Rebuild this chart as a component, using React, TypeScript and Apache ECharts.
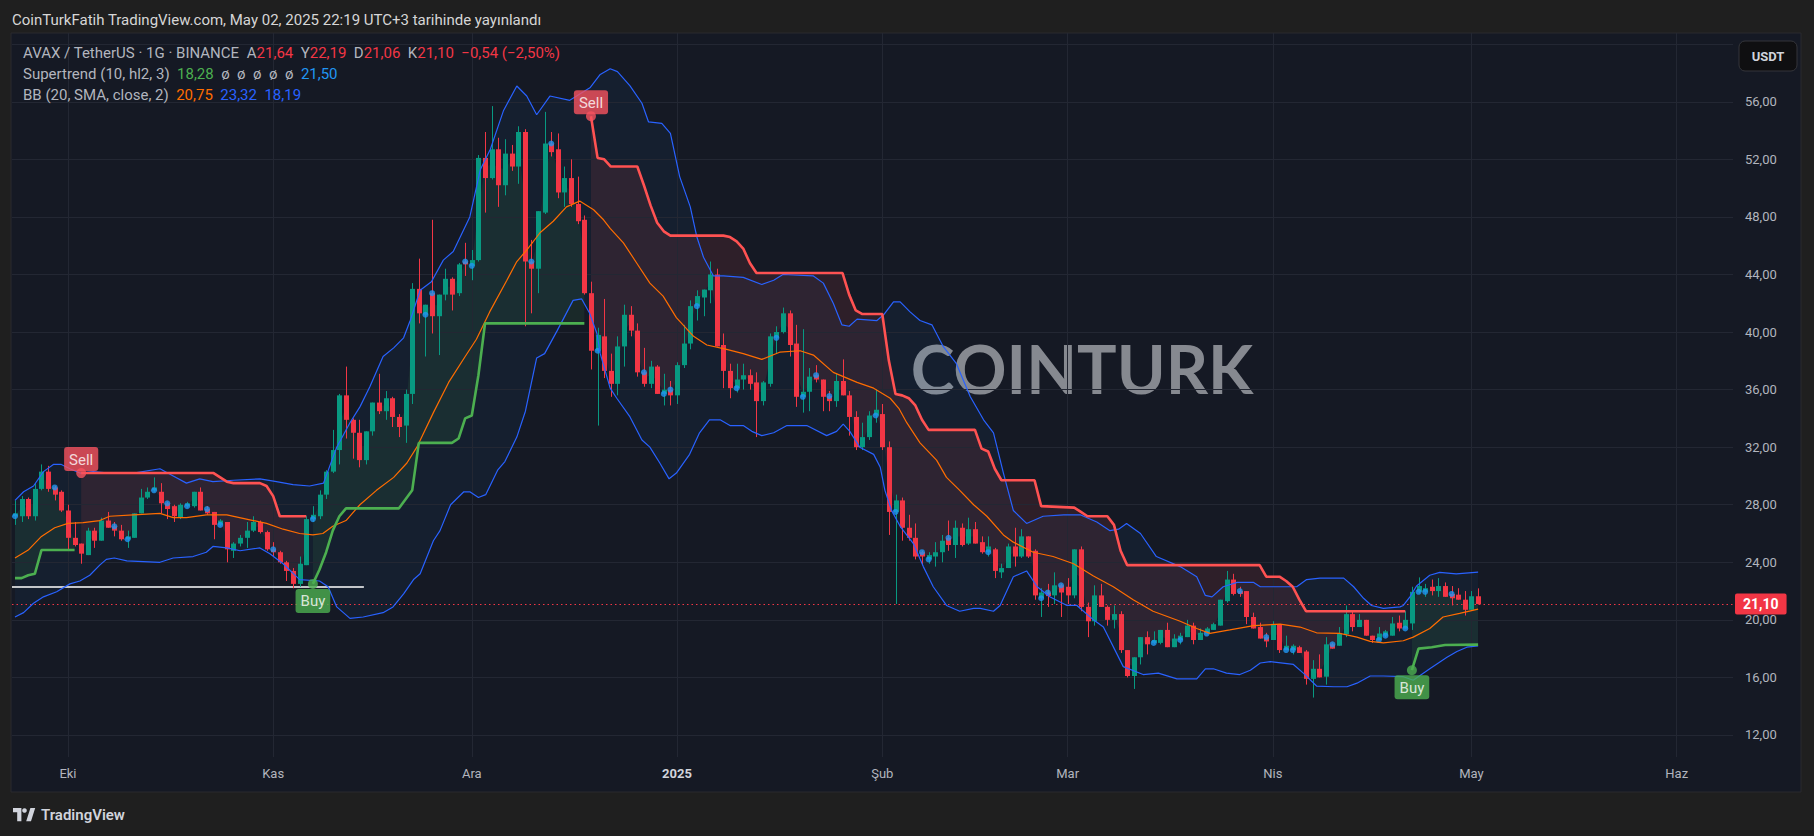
import React, { useEffect, useRef } from 'react';
import * as echarts from 'echarts';

// Day index 0 = 2024-09-23 (daily candles), last = 2025-05-02 (index 221)
// Each candle: [open, high, low, close]
const candles: number[][] = [
  [27.2, 28.3, 26.6, 27.4], [27.2, 28.6, 26.8, 28.4], [28.4, 28.5, 27.0, 27.2], [27.2, 29.5, 26.9, 29.1],
  [29.1, 30.8, 29.0, 30.3], [30.3, 30.7, 28.9, 29.1], [29.2, 29.3, 28.3, 28.7], [28.9, 29.0, 27.5, 27.6],
  [27.6, 28.0, 24.9, 25.7], [25.7, 26.8, 25.1, 25.2], [25.3, 25.3, 23.9, 24.6], [24.5, 26.4, 24.5, 26.2],
  [26.2, 26.4, 25.0, 25.5], [25.5, 27.1, 25.5, 26.9], [26.9, 27.5, 26.4, 26.4], [26.5, 26.8, 25.8, 26.2],
  [26.2, 26.6, 25.5, 25.6], [25.6, 26.2, 25.0, 25.8], [25.7, 27.4, 25.7, 27.4], [27.4, 29.1, 27.4, 28.5],
  [28.5, 29.2, 28.4, 28.9], [29.0, 29.9, 28.9, 29.2], [28.9, 29.5, 27.4, 28.1], [28.1, 28.2, 27.0, 27.7],
  [27.9, 28.0, 26.8, 27.2], [27.1, 28.1, 27.0, 28.0], [27.9, 28.2, 27.8, 28.1], [27.9, 28.9, 27.8, 28.9],
  [28.9, 29.2, 27.6, 27.6], [27.7, 27.9, 27.3, 27.4], [27.5, 27.5, 25.6, 26.6], [26.6, 27.0, 26.5, 26.9],
  [26.8, 26.8, 24.0, 24.9], [24.8, 25.4, 24.3, 25.3], [25.3, 25.9, 25.1, 25.7], [25.7, 26.8, 25.0, 26.2],
  [26.2, 27.2, 26.1, 26.8], [26.8, 26.9, 26.0, 26.1], [26.1, 26.2, 24.8, 24.9], [24.9, 25.4, 24.4, 24.7],
  [24.7, 24.8, 23.9, 24.0], [24.0, 24.1, 22.7, 23.4], [23.4, 23.6, 22.2, 22.5], [22.5, 24.4, 22.3, 23.9],
  [23.8, 27.2, 23.8, 27.0], [27.0, 27.9, 26.8, 27.3], [27.2, 29.0, 27.0, 28.7], [28.7, 30.4, 28.4, 30.3],
  [30.3, 33.2, 30.2, 31.8], [31.8, 35.7, 30.8, 35.6], [35.6, 37.6, 32.6, 33.9], [33.9, 34.0, 31.2, 33.0],
  [33.0, 33.9, 30.6, 31.1], [31.1, 33.1, 30.8, 33.1], [33.1, 35.1, 32.8, 35.1], [35.1, 37.1, 34.3, 34.5],
  [34.5, 35.9, 33.9, 35.4], [35.4, 35.5, 33.4, 34.1], [34.1, 34.3, 32.7, 33.4], [33.5, 36.0, 32.3, 35.7],
  [35.7, 43.4, 35.0, 43.0], [43.0, 45.1, 40.6, 41.3], [41.2, 41.9, 38.3, 41.9], [42.7, 47.8, 39.9, 41.1],
  [41.1, 42.6, 38.4, 42.6], [42.6, 44.4, 42.2, 43.7], [43.7, 43.8, 41.5, 42.6], [42.7, 44.8, 42.5, 44.7],
  [44.9, 46.2, 43.9, 44.7], [44.6, 45.7, 43.6, 45.0], [45.0, 52.3, 44.9, 52.1], [52.1, 53.9, 48.3, 50.7],
  [50.7, 55.7, 50.6, 52.7], [52.7, 53.5, 48.7, 50.2], [50.2, 53.4, 49.5, 52.4], [52.4, 53.0, 51.2, 51.5],
  [51.5, 54.3, 50.3, 53.9], [53.9, 54.1, 40.4, 44.9], [44.9, 46.4, 41.3, 44.4], [44.4, 48.4, 42.7, 48.4],
  [48.3, 55.3, 48.2, 53.1], [53.1, 53.9, 52.2, 52.5], [52.7, 53.8, 49.3, 49.7], [49.7, 51.5, 48.7, 50.7],
  [50.7, 52.0, 48.7, 48.9], [48.9, 50.8, 47.5, 47.7], [47.8, 48.1, 42.6, 42.7], [42.7, 43.5, 37.4, 38.7],
  [38.7, 40.3, 33.5, 39.8], [39.7, 42.3, 36.8, 37.3], [37.3, 38.5, 35.5, 36.4], [36.4, 39.7, 35.6, 39.0],
  [39.0, 41.9, 37.6, 41.2], [41.2, 41.8, 39.7, 40.1], [40.1, 40.6, 36.9, 37.2], [37.2, 38.9, 36.2, 36.4],
  [36.4, 38.0, 36.1, 37.6], [37.6, 37.7, 35.7, 35.7], [35.7, 37.1, 34.9, 36.0], [36.0, 36.6, 34.9, 35.6],
  [35.6, 37.9, 35.0, 37.7], [37.7, 40.5, 37.5, 39.2], [39.2, 42.2, 38.8, 41.8], [41.8, 42.9, 40.8, 42.5],
  [42.4, 42.95, 41.1, 42.95], [42.9, 44.9, 42.0, 44.0], [44.0, 44.4, 39.0, 39.0], [39.1, 39.9, 36.1, 37.3],
  [37.3, 37.8, 35.4, 36.1], [36.1, 37.8, 35.8, 36.7], [36.7, 37.8, 36.0, 37.0], [37.0, 37.4, 36.0, 36.4],
  [36.5, 37.2, 32.7, 35.2], [35.2, 36.6, 34.9, 36.5], [36.4, 39.9, 36.2, 39.7], [39.6, 40.4, 38.5, 40.0],
  [40.0, 41.7, 39.9, 41.3], [41.3, 41.5, 38.3, 39.1], [39.2, 40.5, 34.8, 35.5], [35.5, 40.2, 34.4, 35.85],
  [35.85, 37.5, 34.5, 36.9], [37.0, 37.7, 36.5, 36.7], [36.7, 36.7, 34.5, 35.5], [35.55, 35.9, 34.5, 35.2],
  [35.2, 37.1, 34.8, 36.6], [36.6, 38.1, 35.6, 35.6], [35.6, 35.9, 32.8, 34.1], [34.1, 34.5, 31.8, 32.0],
  [32.0, 33.7, 31.8, 32.7], [32.7, 34.5, 32.5, 34.2], [34.2, 36.0, 33.7, 34.6], [34.3, 35.0, 31.8, 32.0],
  [32.0, 32.4, 25.9, 27.5], [27.5, 28.7, 21.1, 28.3], [28.3, 28.5, 25.5, 26.4], [26.4, 27.3, 25.5, 25.7],
  [25.7, 26.7, 24.2, 24.4], [24.7, 24.8, 23.8, 24.4], [24.2, 24.7, 23.9, 24.5], [24.4, 25.4, 23.7, 24.7],
  [24.7, 25.9, 24.0, 25.5], [25.7, 26.9, 24.8, 25.2], [25.2, 26.9, 24.3, 26.4], [26.4, 26.7, 25.1, 25.2],
  [25.3, 27.1, 25.2, 26.3], [26.3, 26.8, 25.3, 25.3], [25.4, 25.8, 24.6, 24.7], [24.7, 25.8, 24.4, 25.1],
  [24.9, 25.0, 22.9, 23.4], [23.3, 23.9, 22.9, 23.6], [23.6, 25.3, 23.6, 25.1], [25.1, 26.4, 23.7, 24.4],
  [24.4, 26.3, 24.3, 25.8], [25.8, 25.8, 24.3, 24.4], [24.8, 24.9, 21.4, 21.7], [21.5, 22.2, 20.2, 21.9],
  [21.9, 22.5, 20.9, 21.65], [21.7, 23.3, 21.1, 22.4], [22.4, 22.5, 20.2, 21.9], [22.3, 22.9, 21.1, 21.7],
  [21.7, 24.9, 21.5, 24.9], [24.9, 25.1, 20.6, 20.9], [20.9, 21.2, 18.8, 19.9], [19.9, 22.4, 19.6, 21.7],
  [21.7, 22.5, 20.9, 20.9], [20.9, 21.0, 19.6, 20.0], [20.0, 21.0, 19.4, 20.4], [20.4, 20.6, 17.7, 17.9],
  [17.9, 17.9, 16.0, 16.1], [16.1, 17.4, 15.2, 17.4], [17.4, 18.8, 16.9, 18.8], [18.8, 19.2, 17.6, 18.3],
  [18.4, 19.2, 18.3, 18.6], [18.4, 19.3, 18.3, 19.3], [19.3, 19.8, 18.1, 18.1], [18.1, 19.0, 18.1, 18.7],
  [18.6, 19.1, 18.3, 18.9], [18.8, 20.0, 18.8, 19.6], [19.6, 19.8, 18.3, 18.6], [18.6, 19.4, 18.6, 19.1],
  [19.05, 19.5, 19.0, 19.4], [19.3, 19.8, 19.3, 19.7], [19.6, 21.4, 19.6, 21.4], [21.3, 23.4, 21.2, 22.8],
  [22.8, 23.2, 21.7, 21.8], [22.0, 22.3, 21.6, 21.8], [22.0, 22.0, 19.7, 20.2], [20.2, 20.5, 19.4, 19.4],
  [19.5, 19.8, 18.7, 18.7], [18.8, 19.1, 18.1, 18.5], [18.6, 19.9, 18.6, 19.7], [19.7, 19.7, 17.7, 17.9],
  [17.9, 18.9, 17.9, 18.2], [17.9, 18.3, 17.6, 18.2], [18.1, 18.2, 17.7, 17.7], [17.8, 17.9, 15.5, 15.9],
  [15.9, 17.2, 14.6, 16.6], [16.6, 17.6, 16.0, 16.0], [16.05, 18.8, 15.5, 18.3], [18.3, 18.4, 18.0, 18.0],
  [18.2, 19.5, 18.2, 19.05], [19.0, 21.0, 18.8, 20.4], [20.4, 20.6, 19.2, 19.5], [19.5, 20.4, 19.5, 20.0],
  [20.0, 20.0, 18.9, 18.9], [18.9, 18.9, 18.4, 18.6], [18.6, 19.5, 18.6, 19.05], [18.9, 19.3, 18.8, 19.2],
  [18.9, 20.2, 18.9, 19.75], [19.8, 20.3, 19.2, 19.4], [19.4, 20.6, 19.4, 20.0], [19.75, 22.3, 19.3, 21.95],
  [21.95, 22.95, 21.85, 22.35], [21.95, 22.5, 21.6, 22.2], [22.3, 22.8, 21.7, 22.0], [22.0, 22.9, 21.6, 22.35],
  [22.35, 22.6, 21.6, 21.6], [21.8, 22.35, 21.0, 21.5], [21.75, 22.2, 21.4, 21.4], [21.4, 22.0, 20.3, 20.7],
  [20.7, 22.0, 20.7, 21.64], [21.64, 22.19, 21.06, 21.10],
];

// candles carrying the small blue marker
const dotDays = [0, 6, 15, 17, 21, 23, 26, 29, 31, 39, 45, 62, 63, 68, 69, 78, 81, 88, 95, 98, 99, 103, 109, 115,
  119, 121, 123, 130, 133, 137, 138, 141, 147, 155, 156, 158, 172, 176, 180, 185, 189, 192, 193, 199, 206, 207,
  210, 212, 213, 217];

// Bollinger Bands (20, SMA, close, 2): [dayIndex, price]
const bbUpper: number[][] = [
  [0, 28.3], [1.3, 28.9], [2.8, 29.3], [4.3, 30.3], [5.8, 30.8], [7, 30.8], [8.3, 30.5], [9.8, 30.2], [11.8, 30.3],
  [14.3, 30.2], [17.9, 30.2], [21.9, 30.5], [23.9, 30.0], [25.9, 29.5], [27.9, 29.8], [29.9, 29.6], [33, 29.7],
  [37, 29.8], [39.5, 29.6], [42, 29.4], [44.5, 29.3], [46.6, 29.5], [48.6, 32.0], [50.6, 33.7], [52.1, 34.8],
  [53.6, 36.2], [55.6, 38.3], [57.2, 38.9], [58.7, 39.6], [59.7, 40.8], [61.2, 42.9], [62.9, 43.5], [64.7, 45.0],
  [66.2, 45.6], [68.7, 48.0], [70.3, 51.3], [71.8, 52.7], [73.8, 55.4], [75.8, 57.1], [77.3, 56.4], [78.8, 55.1],
  [80.8, 56.4], [83.8, 56.1], [85.5, 56.6], [86.9, 57.0], [88.4, 57.9], [89.9, 58.3], [91, 58.1], [92.9, 57.1],
  [94.7, 55.9], [95.7, 54.6], [97.7, 54.5], [99, 53.8], [100.4, 50.8], [102, 48.7], [103, 46.6], [104, 45.2],
  [105.5, 43.9], [107, 43.9], [110, 43.8], [112.8, 43.3], [114.6, 43.6], [116, 44.0], [120.6, 43.9], [122.1, 43.4],
  [123.6, 42.0], [124.9, 40.5], [126, 40.4], [127.2, 40.9], [130.2, 40.8], [131.2, 41.2], [132.7, 42.1],
  [133.7, 42.1], [135.2, 41.4], [136.7, 40.8], [138.5, 40.5], [140.2, 39.0], [142.2, 37.8], [144.3, 35.5],
  [146.3, 33.9], [147.8, 33.0], [149.3, 30.2], [150.8, 27.6], [152.8, 26.7], [155.3, 27.2], [158.4, 27.3],
  [160.9, 27.3], [163.4, 26.8], [165.4, 26.2], [166.7, 26.3], [167.9, 26.7], [170, 26.0], [172.4, 24.4],
  [176, 23.7], [178.5, 23.0], [179.8, 21.7], [180.8, 21.6], [182.5, 22.3], [184.6, 22.6], [187.1, 22.6],
  [188.1, 22.3], [193.6, 22.3], [195.1, 22.8], [197.1, 22.9], [200.7, 22.9], [202.2, 22.3], [203.7, 21.5],
  [204.9, 21.0], [206.7, 20.8], [209.2, 20.9], [209.7, 21.0], [210.7, 21.6], [211.7, 22.35], [213.7, 23.1],
  [215.2, 23.3], [217.7, 23.2], [221, 23.32],
];
const bbMiddle: number[][] = [
  [0, 24.3], [2, 24.85], [4, 25.8], [6, 26.4], [8, 26.7], [10.3, 26.75], [12.8, 26.9], [14.3, 27.2], [17.9, 27.3],
  [21.9, 27.4], [23.9, 27.1], [25.9, 27.1], [28.9, 27.3], [32, 27.3], [36, 26.9], [38, 26.7], [40.5, 26.3],
  [43, 26.0], [45, 25.9], [46.5, 26.0], [48, 26.5], [50, 26.9], [52.1, 28.0], [54.6, 29.0], [57.2, 29.9],
  [59.2, 30.9], [60.7, 32.0], [63.2, 34.4], [65.5, 36.5], [68, 38.3], [69.7, 39.5], [71.7, 41.4], [74.3, 43.6],
  [75.8, 44.9], [77.3, 45.7], [79.3, 46.9], [81.3, 47.7], [83.3, 48.7], [85.3, 49.1], [87.4, 48.5], [88.9, 47.8],
  [89.9, 47.2], [91.9, 46.2], [93.9, 44.8], [95.9, 43.4], [97.9, 42.5], [99.9, 41.0], [102.5, 39.7], [104.5, 39.1],
  [107.5, 38.8], [110, 38.5], [112.8, 38.1], [115.5, 38.6], [118.6, 38.7], [120.6, 38.4], [123.6, 37.2],
  [127.2, 36.5], [129.7, 36.1], [132.2, 35.4], [133.5, 34.7], [134.7, 33.7], [136.7, 32.3], [139.2, 31.1],
  [140.7, 29.9], [142.7, 29.0], [144.8, 28.0], [146.8, 27.2], [149.3, 25.9], [150.8, 25.4], [153.8, 24.7],
  [156.8, 24.4], [159.9, 23.9], [162.9, 23.05], [165.9, 22.3], [168.9, 21.4], [171.9, 20.6], [176, 19.9],
  [178.5, 19.4], [180.5, 19.06], [183.5, 19.3], [187.1, 19.6], [191.1, 19.7], [194.1, 19.5], [196.6, 19.1],
  [200.1, 19.06], [202.7, 18.8], [204.7, 18.5], [206.7, 18.4], [209.7, 18.55], [211.2, 18.8], [213.7, 19.4],
  [215.7, 20.2], [218.2, 20.45], [221, 20.75],
];
const bbLower: number[][] = [
  [0, 20.2], [1.3, 20.5], [2.8, 21.15], [4.3, 21.6], [6.3, 21.95], [8.3, 22.5], [9.8, 22.7], [11.3, 23.1],
  [12.8, 23.8], [13.8, 24.2], [15, 24.3], [16.9, 24.1], [21.9, 24.0], [23.9, 24.3], [26.9, 24.4], [28.9, 24.7],
  [29.9, 25.1], [32, 25.0], [34, 24.8], [37, 25.0], [38.5, 24.6], [40.5, 23.9], [43, 22.8], [46, 22.7],
  [47.3, 22.3], [48.6, 20.9], [50.6, 20.1], [52.6, 20.2], [55.6, 20.5], [57.1, 20.9], [58.7, 21.8], [60.2, 22.8],
  [61.2, 23.2], [63.2, 25.5], [64.2, 26.2], [65.8, 28.0], [67.8, 28.9], [68.7, 28.9], [70, 28.5], [71.1, 28.7],
  [72.9, 30.4], [74, 31.0], [75.8, 32.7], [77.1, 34.5], [78.8, 38.2], [80, 38.5], [81.9, 40.1], [84.3, 42.2],
  [85.6, 42.3], [86.8, 41.3], [87.9, 39.9], [88.4, 38.5], [89.9, 36.1], [90.9, 35.4], [92.9, 34.1], [94.7, 32.5],
  [95.9, 32.0], [97.4, 30.9], [98.8, 29.8], [99.9, 30.2], [101.9, 31.5], [103.4, 33.0], [104.9, 33.9],
  [106.5, 33.9], [108, 33.5], [110, 33.5], [111.3, 33.1], [112.8, 32.8], [114.6, 33.0], [116.6, 33.5],
  [119.6, 33.5], [122.6, 32.8], [124.1, 33.1], [125.1, 33.6], [126.1, 33.1], [127.6, 32.0], [129.7, 31.5],
  [130.7, 30.6], [131.4, 29.0], [132.4, 27.6], [133.7, 26.5], [135.7, 25.3], [137.2, 23.7], [138.7, 22.3],
  [140.7, 21.0], [142.7, 20.6], [144.8, 20.8], [145.8, 20.8], [147.8, 20.6], [148.8, 21.0], [150.8, 23.0],
  [152.8, 23.4], [154.4, 22.3], [156.3, 21.6], [158.9, 21.0], [160.4, 21.0], [162.9, 20.0], [164.4, 19.5],
  [167.4, 16.75], [170.4, 16.2], [172.7, 16.3], [175.5, 15.9], [178.5, 15.9], [179.8, 16.6], [181, 16.6],
  [183, 16.3], [185, 16.2], [186.6, 16.5], [188.1, 17.0], [189.6, 17.1], [193.1, 16.9], [194.6, 16.3],
  [196.6, 15.4], [199.2, 15.35], [201.2, 15.35], [202.7, 15.6], [204.7, 16.1], [206.7, 16.1], [209.7, 16.05],
  [211.2, 15.8], [213.7, 16.6], [216.3, 17.4], [217.8, 17.8], [219.3, 18.1], [221, 18.19],
];

// Supertrend (10, hl2, 3) segments: [dayIndex, price]
const stUp1: number[][] = [[0, 22.9], [1, 22.9], [2, 23.1], [3, 23.2], [4, 24.85], [9, 24.85]];
const stDown1: number[][] = [[10, 30.2], [30, 30.2], [31, 29.9], [32, 29.6], [33, 29.5], [37, 29.5], [38, 29.3],
  [39, 28.6], [40, 27.2], [44, 27.2]];
const stUp2: number[][] = [[45, 22.5], [46, 23.5], [47, 24.7], [48, 26.2], [49, 27.2], [50, 27.75], [58, 27.75],
  [60, 29.0], [61, 32.3], [66, 32.3], [67, 32.6], [68, 34.0], [69, 34.2], [70, 37.0], [71, 40.6], [86, 40.6]];
const stDown2: number[][] = [[87, 55.0], [88, 52.1], [89, 52.0], [90, 51.5], [94, 51.5], [95, 50.2], [96, 48.8],
  [97, 47.6], [98, 47.0], [99, 46.7], [107, 46.7], [108, 46.6], [109, 46.3], [110, 45.8], [111, 44.8],
  [112, 44.1], [125, 44.1], [126, 42.6], [127, 41.5], [128, 41.25], [131, 41.25], [132, 38.0], [133, 35.7],
  [134, 35.6], [135, 35.4], [136, 34.9], [137, 33.9], [138, 33.2], [145, 33.2], [146, 31.9], [147, 31.7],
  [148, 30.5], [149, 29.7], [154, 29.7], [155, 27.9], [160, 27.8], [161, 27.5], [162, 27.2], [165, 27.2],
  [166, 26.6], [167, 24.8], [168, 23.8], [188, 23.8], [189, 23.0], [191, 23.0], [192, 22.7], [193, 22.3],
  [194, 21.4], [195, 20.6], [210, 20.6]];
const stUp3: number[][] = [[211, 16.5], [212, 18.0], [214, 18.1], [216, 18.25], [221, 18.28]];

const sellSignals: number[][] = [[10, 30.2], [87, 55.0]];
const buySignals: number[][] = [[45, 22.5], [211, 16.5]];

const monthTicks = [8, 39, 69, 100, 131, 159, 190, 220, 251];
const monthLabels = ['Eki', 'Kas', 'Ara', '2025', 'Şub', 'Mar', 'Nis', 'May', 'Haz'];
const priceTicks = [12, 16, 20, 24, 28, 32, 36, 40, 44, 48, 52, 56];
const gridPrices = [12, 16, 20, 24, 28, 32, 36, 40, 44, 48, 52, 56, 60];

const lastPrice = 21.10;
const userLine = { from: -0.45, to: 52.7, price: 22.3 };

const UP = '#089981';
const DOWN = '#f23645';
const ST_UP = '#4caf50';
const ST_DOWN = '#ff5252';

const FONT = 'Roboto, "Noto Sans", "DejaVu Sans", sans-serif';

const fmt = (v: number) => v.toFixed(2).replace('.', ',');

export default function App() {
  const ref = useRef<HTMLDivElement>(null);

  useEffect(() => {
    document.body.style.margin = '0';
    if (!ref.current) return;
    const chart = echarts.init(ref.current, null, { renderer: 'svg' });

    echarts.graphic.registerShape(
      'tvlogo',
      echarts.graphic.extendPath('M0 0H14V22H7V7H0Z M22 22L29 0H37L30 22Z', {})
    );

    const bodyMid = (i: number) => (candles[i][0] + candles[i][3]) / 2;

    const polySeries = (pts: number[][], color: string, z: number) => ({
      type: 'custom',
      z,
      silent: true,
      clip: true,
      data: [[pts[0][0], pts[0][1]]],
      renderItem: (_params: any, api: any) => ({
        type: 'polygon',
        shape: { points: pts.map((p) => api.coord(p)) },
        style: { fill: color },
      }),
    });

    const stFill = (seg: number[][], color: string) => {
      const a = seg[0][0];
      const b = seg[seg.length - 1][0];
      const back: number[][] = [];
      for (let i = b; i >= a; i--) back.push([i, bodyMid(i)]);
      return polySeries([...seg, ...back], color, 3);
    };

    const lineSeries = (pts: number[][], color: string, width: number, z: number) => ({
      type: 'line',
      data: pts,
      z,
      silent: true,
      symbol: 'none',
      smooth: false,
      lineStyle: { color, width },
    });

    const stSegs: [number[][], boolean][] = [
      [stUp1, true], [stDown1, false], [stUp2, true], [stDown2, false], [stUp3, true],
    ];

    const sigLabel = (text: string, color: string, position: string, distance: number) => ({
      show: true,
      position,
      distance,
      formatter: text,
      color: '#ffffff',
      backgroundColor: color,
      padding: [5, 5, 4, 5],
      borderRadius: 3,
      fontSize: 15,
      fontFamily: FONT,
    });

    const series: any[] = [
      // grid lines
      {
        type: 'line',
        data: [[0, 30]],
        symbol: 'none',
        lineStyle: { opacity: 0 },
        z: 1,
        silent: true,
        markLine: {
          silent: true,
          symbol: ['none', 'none'],
          label: { show: false },
          lineStyle: { color: '#232733', width: 1, type: 'solid' },
          data: [
            ...gridPrices.map((p) => ({ yAxis: p })),
            ...monthTicks.map((m) => ({ xAxis: m })),
          ],
        },
      },
      polySeries([...bbUpper, ...[...bbLower].reverse()], 'rgba(33,150,243,0.055)', 2),
      ...stSegs.map(([seg, up]) => stFill(seg, up ? 'rgba(76,175,80,0.11)' : 'rgba(255,82,82,0.11)')),
      // candles
      {
        type: 'custom',
        z: 5,
        clip: true,
        silent: true,
        data: candles.map((c, i) => [i, c[0], c[1], c[2], c[3]]),
        encode: { x: 0, y: [1, 2, 3, 4] },
        renderItem: (_params: any, api: any) => {
          const i = api.value(0);
          const o = api.value(1);
          const h = api.value(2);
          const l = api.value(3);
          const c = api.value(4);
          const pO = api.coord([i, o]);
          const pC = api.coord([i, c]);
          const pH = api.coord([i, h]);
          const pL = api.coord([i, l]);
          const x = Math.round(pO[0]);
          const color = c >= o ? UP : DOWN;
          const top = Math.min(pO[1], pC[1]);
          const hh = Math.max(1, Math.abs(pO[1] - pC[1]));
          return {
            type: 'group',
            children: [
              { type: 'line', shape: { x1: x + 0.5, y1: pH[1], x2: x + 0.5, y2: pL[1] }, style: { stroke: color, lineWidth: 1 } },
              { type: 'rect', shape: { x: x - 2, y: top, width: 5, height: hh }, style: { fill: color } },
            ],
          };
        },
      },
      {
        type: 'scatter',
        z: 6,
        silent: true,
        symbol: 'circle',
        symbolSize: 6,
        itemStyle: { color: '#2196f3' },
        data: dotDays.map((i) => [i, candles[i][0]]),
      },
      lineSeries(bbMiddle, '#ff6d00', 1.2, 7),
      lineSeries(bbUpper, '#2962ff', 1.2, 7),
      lineSeries(bbLower, '#2962ff', 1.2, 7),
      ...stSegs.map(([seg, up]) => lineSeries(seg, up ? ST_UP : ST_DOWN, 2.6, 8)),
      // last price + user drawn line
      {
        type: 'line',
        data: [[0, 30]],
        symbol: 'none',
        lineStyle: { opacity: 0 },
        z: 9,
        silent: true,
        markLine: {
          silent: true,
          symbol: ['none', 'none'],
          data: [
            {
              yAxis: lastPrice,
              lineStyle: { color: DOWN, type: [1.5, 3], width: 1 },
              label: {
                show: true,
                position: 'end',
                distance: 2,
                formatter: fmt(lastPrice),
                color: '#ffffff',
                backgroundColor: DOWN,
                padding: [4, 8, 3, 8],
                borderRadius: 2,
                fontSize: 14,
                fontWeight: 'bold',
                fontFamily: FONT,
              },
            },
            [
              { coord: [userLine.from, userLine.price], lineStyle: { color: '#ffffff', width: 1.5, type: 'solid' }, label: { show: false } },
              { coord: [userLine.to, userLine.price] },
            ],
          ],
        },
      },
      {
        type: 'scatter',
        z: 10,
        silent: true,
        symbol: 'circle',
        symbolSize: 10,
        itemStyle: { color: '#f7525f' },
        data: sellSignals,
        label: sigLabel('Sell', '#f7525f', 'top', -3),
      },
      {
        type: 'scatter',
        z: 10,
        silent: true,
        symbol: 'circle',
        symbolSize: 10,
        itemStyle: { color: '#4caf50' },
        data: buySignals,
        label: sigLabel('Buy', '#4caf50', 'bottom', 0),
      },
    ];

    const g = '#b2b5be';
    const F15 = `15px ${FONT}`;
    chart.setOption({
      animation: false,
      backgroundColor: '#1f1f1f',
      textStyle: { fontFamily: FONT },
      grid: { left: 12, right: 81, top: 33, bottom: 79, containLabel: false },
      xAxis: {
        type: 'value',
        min: -0.45,
        max: 259.5,
        axisLine: { show: false },
        axisTick: { show: false },
        splitLine: { show: false },
        axisLabel: {
          customValues: monthTicks,
          formatter: (v: number) => {
            const s = monthLabels[monthTicks.indexOf(v)] ?? '';
            return s === '2025' ? `{b|${s}}` : s;
          },
          color: g,
          fontSize: 13,
          margin: 10,
          rich: { b: { fontWeight: 'bold', color: '#d1d4dc', fontSize: 13, fontFamily: FONT } },
        },
      },
      yAxis: {
        type: 'value',
        position: 'right',
        min: 10.47,
        max: 60.78,
        axisLine: { show: false },
        axisTick: { show: false },
        splitLine: { show: false },
        axisLabel: {
          customValues: priceTicks,
          formatter: (v: number) => fmt(v),
          color: g,
          fontSize: 13,
          margin: 12,
        },
      },
      graphic: [
        { type: 'rect', z: -10, silent: true, shape: { x: 11, y: 33, width: 1790, height: 759 }, style: { fill: '#151924', stroke: '#2a2a2e', lineWidth: 1 } },
        {
          type: 'text', z: -5, silent: true, x: 1082, y: 368,
          style: { text: 'COINTURK', font: 'bold 66px Lato, "Open Sans", sans-serif', fill: 'rgba(160,162,168,0.82)', textAlign: 'center', textVerticalAlign: 'middle' },
        },
        {
          type: 'text', z: 50, silent: true, x: 12, y: 20,
          style: { text: 'CoinTurkFatih TradingView.com, May 02, 2025 22:19 UTC+3 tarihinde yayınlandı', font: F15, fill: '#d6d6d6', textVerticalAlign: 'middle' },
        },
        {
          type: 'text', z: 50, silent: true, x: 23, y: 53,
          style: {
            text: '{g|AVAX / TetherUS · 1G · BINANCE}  {g|A}{r|21,64}  {g|Y}{r|22,19}  {g|D}{r|21,06}  {g|K}{r|21,10}  {r|−0,54 (−2,50%)}',
            font: F15, fill: g, textVerticalAlign: 'middle',
            rich: { g: { fill: g, font: F15 }, r: { fill: DOWN, font: F15 } },
          },
        },
        {
          type: 'text', z: 50, silent: true, x: 23, y: 74,
          style: {
            text: '{g|Supertrend (10, hl2, 3)}  {gr|18,28}  {g|ø  ø  ø  ø  ø}  {b|21,50}',
            font: F15, fill: g, textVerticalAlign: 'middle',
            rich: { g: { fill: g, font: F15 }, gr: { fill: ST_UP, font: F15 }, b: { fill: '#2196f3', font: F15 } },
          },
        },
        {
          type: 'text', z: 50, silent: true, x: 23, y: 95,
          style: {
            text: '{g|BB (20, SMA, close, 2)}  {o|20,75}  {b|23,32}  {b|18,19}',
            font: F15, fill: g, textVerticalAlign: 'middle',
            rich: { g: { fill: g, font: F15 }, o: { fill: '#ff6d00', font: F15 }, b: { fill: '#2962ff', font: F15 } },
          },
        },
        { type: 'rect', z: 50, silent: true, shape: { x: 1739, y: 41, width: 58, height: 30, r: 6 }, style: { fill: '#0f0f11', stroke: '#34353a', lineWidth: 1 } },
        {
          type: 'text', z: 51, silent: true, x: 1768, y: 56,
          style: { text: 'USDT', font: `bold 13px ${FONT}`, fill: '#d1d4dc', textAlign: 'center', textVerticalAlign: 'middle' },
        },
        { type: 'tvlogo', z: 50, silent: true, x: 13, y: 808, scaleX: 0.6, scaleY: 0.6, style: { fill: '#d1d4dc' } },
        { type: 'circle', z: 50, silent: true, shape: { cx: 24.5, cy: 810.5, r: 2.3 }, style: { fill: '#d1d4dc' } },
        {
          type: 'text', z: 50, silent: true, x: 41, y: 815,
          style: { text: 'TradingView', font: `600 15px ${FONT}`, fill: '#d1d4dc', textVerticalAlign: 'middle' },
        },
      ],
      series,
    });

    return () => chart.dispose();
  }, []);

  return <div ref={ref} style={{ position: 'fixed', left: 0, top: 0, width: 1814, height: 836 }} />;
}
